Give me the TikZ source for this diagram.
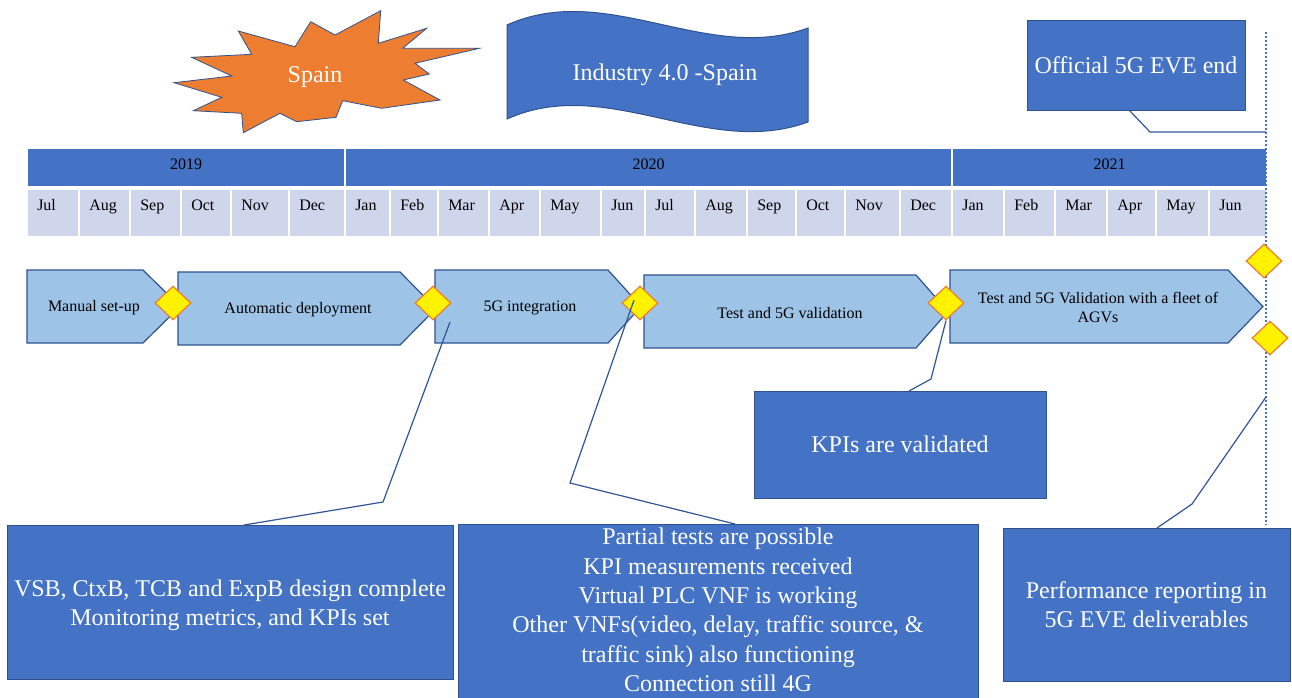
\documentclass[tikz,border=0pt]{standalone}
\usepackage{fontspec}
\setmainfont{Liberation Serif}
\usetikzlibrary{shapes.geometric}
\definecolor{dblue}{HTML}{4472C4}
\definecolor{edgeblue}{HTML}{2F528F}
\definecolor{lblue}{HTML}{9DC3E6}
\definecolor{cellc}{HTML}{CFD5EA}
\definecolor{orng}{HTML}{ED7D31}
\definecolor{lineblue}{HTML}{2F5597}
\begin{document}
\begin{tikzpicture}[x=0.75pt,y=-0.75pt,
  bigbox/.style={draw=edgeblue, line width=0.75pt, fill=dblue, text=white,
    font=\fontsize{18}{22}\selectfont, align=center, inner sep=0pt},
  btext/.style={text=white, font=\fontsize{18}{22}\selectfont, align=center, inner sep=0pt},
  phase/.style={draw=edgeblue, fill=lblue, line width=0.9pt, line join=miter},
  ptext/.style={font=\fontsize{12}{14}\selectfont, align=center, inner sep=0pt},
  ms/.style={diamond, draw=orng, fill=yellow, line width=0.9pt,
    minimum width=27pt, minimum height=25.5pt, inner sep=0pt},
  callout/.style={draw=lineblue, line width=0.9pt},
  mtext/.style={font=\fontsize{12}{14}\selectfont, anchor=base west, inner sep=0pt},
  ytext/.style={font=\fontsize{12}{14}\selectfont, anchor=base, inner sep=0pt},
  wtext/.style={text=white, font=\fontsize{18}{22}\selectfont, anchor=base, inner sep=0pt},
]
\clip (0,0) rectangle (1292,697);

% ---- Spain explosion
\draw[fill=orng, draw=edgeblue, line width=0.6pt, line join=miter]
  (174,82.7) -- (231.7,76) -- (191.7,57.3) -- (251.7,54.3) -- (238.3,31)
  -- (295,46.7) -- (310.7,21.7) -- (335,35) -- (380.7,10.7) -- (378.3,43.3)
  -- (426.7,28.3) -- (402.7,48.3) -- (479.3,48.3) -- (415,63.3) -- (429.3,74)
  -- (403.3,80) -- (440,100) -- (381.7,108.3) -- (342.7,100.7) -- (336,117.3)
  -- (296.7,121.7) -- (280,113.3) -- (243.3,132.7) -- (241.7,113.3)
  -- (193.3,110.7) -- (221.7,97.3) -- cycle;
\node[wtext] (spain) at (315,82.7) {Spain};

% ---- Industry banner
\draw[fill=dblue, draw=edgeblue, line width=0.75pt]
  (507,25) .. controls (607,-20) and (707,65) .. (808,28)
  -- (808,122) .. controls (707,159) and (607,74) .. (507,119) -- cycle;
\node[wtext] (industry) at (665,80) {Industry 4.0 -Spain};

% ---- Official end box
\node[bigbox, minimum width=163.5pt, minimum height=67.5pt] (official) at (1136,65) {Official 5G EVE end};

% ---- Year bar
\fill[dblue] (28,149) rectangle (344,186);
\fill[dblue] (346,149) rectangle (951,186);
\fill[dblue] (953,149) rectangle (1266,186);
\node[ytext] (y19) at (186,169) {2019};
\node[ytext] (y20) at (648.5,169) {2020};
\node[ytext] (y21) at (1109.5,169) {2021};

% ---- Months
\foreach \a/\b/\m [count=\i] in {28/78/Jul,80/129/Aug,131/180/Sep,182/230/Oct,232/288/Nov,290/344/Dec,
  346/389/Jan,391/437/Feb,439/488/Mar,490/539/Apr,541/600/May,602/644/Jun,646/694/Jul,696/746/Aug,
  748/795/Sep,797/844/Oct,846/899/Nov,901/951/Dec,
  953/1003/Jan,1005/1054/Feb,1056/1106/Mar,1108/1155/Apr,1157/1208/May,1210/1266/Jun}{
  \fill[cellc] (\a,190) rectangle (\b,236);
  \node[mtext] (m\i) at (\a+9,210) {\m};
}

% ---- Phases
\draw[phase] (27,270) -- (143,270) -- (180,306.5) -- (143,343) -- (27,343) -- cycle;
\node[ptext] (p1) at (94,308) {Manual set-up};
\draw[phase] (178,272) -- (400,272) -- (436,308.5) -- (400,345) -- (178,345) -- cycle;
\node[ptext] (p2) at (298,310) {Automatic deployment};
\draw[phase] (435,270) -- (608,270) -- (641,306.5) -- (608,343) -- (435,343) -- cycle;
\node[ptext] (p3) at (530,308) {5G integration};
\draw[phase] (644,275) -- (916,275) -- (948,311.5) -- (916,348) -- (644,348) -- cycle;
\node[ptext] (p4) at (790,313) {Test and 5G validation};
\draw[phase] (950,270) -- (1228,270) -- (1263,306.5) -- (1228,343) -- (950,343) -- cycle;
\node[ptext] (p5) at (1098,307.5) {Test and 5G Validation with a fleet of\\AGVs};

% ---- End line
\coordinate (etop) at (1266,32);
\coordinate (ebot) at (1266,525);
\draw[dblue, line width=1.6pt, dash pattern=on 1.6pt off 1.4pt] (etop) -- (ebot);

% ---- Milestones
\node[ms] (d1) at (173,303) {};
\node[ms] (d2) at (433,303) {};
\node[ms] (d3) at (640,303) {};
\node[ms] (d4) at (946,303) {};
\node[ms] (d5) at (1264,261) {};
\node[ms] (d6) at (1270,338) {};

% ---- Bottom boxes
\node[bigbox, minimum width=334.5pt, minimum height=115.5pt] (design) at (230,602) {};
\node[btext] (designtext) at (230,605.5)
  {VSB, CtxB, TCB and ExpB design complete\\Monitoring metrics, and KPIs set};
\node[bigbox, minimum width=390pt, minimum height=139.5pt] (partial) at (718,617) {};
\node[btext] (partialtext) at (718,610)
  {Partial tests are possible\\KPI measurements received\\Virtual PLC VNF is working\\
   Other VNFs(video, delay, traffic source, \&\\traffic sink) also functioning\\Connection still 4G};
\node[bigbox, minimum width=219pt, minimum height=80.25pt] (kpi) at (900,444.5) {KPIs are validated};
\node[bigbox, minimum width=215.25pt, minimum height=114.75pt] (perf) at (1146.5,604.5)
  {Performance reporting in\\5G EVE deliverables};

% ---- Callouts
\coordinate (a0) at (244,525); \coordinate (a1) at (383,502); \coordinate (a2) at (450,322);
\draw[callout] (a0) -- (a1) -- (a2);
\coordinate (b0) at (735,524); \coordinate (b1) at (570,483); \coordinate (b2) at (634,300);
\draw[callout] (b0) -- (b1) -- (b2);
\coordinate (k0) at (909,391); \coordinate (k1) at (931,379);
\draw[callout] (k0) -- (k1) -- (d4.south);
\coordinate (r0) at (1157,528); \coordinate (r1) at (1192,504); \coordinate (r2) at (1266,397);
\draw[callout] (r0) -- (r1) -- (r2);
\coordinate (o0) at (1129,110); \coordinate (o1) at (1150,132); \coordinate (o2) at (1266,132);
\draw[callout] (o0) -- (o1) -- (o2);
\end{tikzpicture}
\end{document}
